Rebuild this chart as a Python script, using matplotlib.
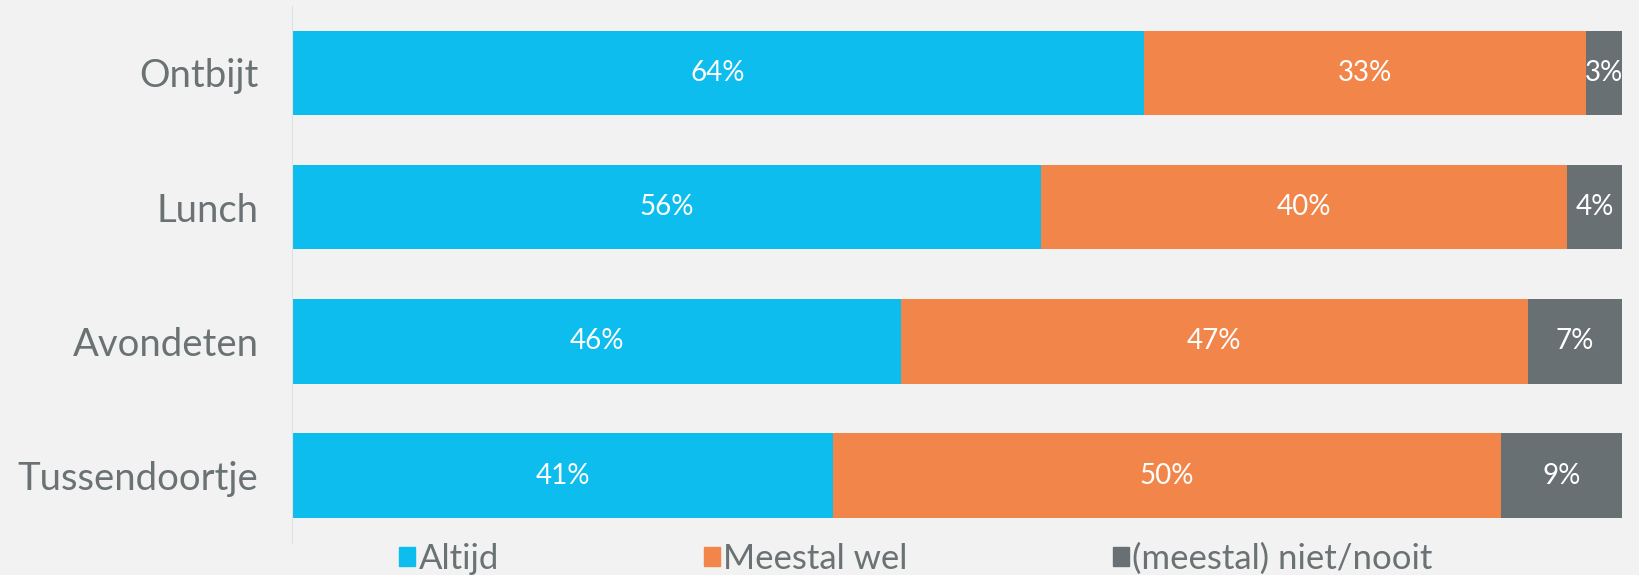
import numpy as np
from matplotlib import pyplot as plt
from matplotlib import patches

# data
categories = ['Ontbijt', 'Lunch', 'Avondeten', 'Tussendoortje']
series_names = ['Altijd', 'Meestal wel', '(meestal) niet/nooit']
altijd = [64.1, 56.3, 45.8, 40.7]
meestal_wel = [33.2, 39.6, 47.1, 50.2]
niet_nooit = [2.7, 4.1, 7.1, 9.1]
labels_altijd = ['64%', '56%', '46%', '41%']
labels_meestal = ['33%', '40%', '47%', '50%']
labels_niet = ['3%', '4%', '7%', '9%']

colors = ['#0DBDEE', '#F2864A', '#687073']
bg = '#F2F2F2'
text_grey = '#6A7274'

plt.rcParams['font.family'] = ['Lato', 'DejaVu Sans']

fig = plt.figure(figsize=(16.4, 5.75), dpi=100, facecolor=bg)
ax = fig.add_axes([0.178, 0.056, 0.811, 0.934], facecolor=bg)

y = np.arange(len(categories))
left = np.zeros(len(categories))
for vals, labs, col, name in zip([altijd, meestal_wel, niet_nooit],
                                 [labels_altijd, labels_meestal, labels_niet],
                                 colors, series_names):
    bars = ax.barh(y, vals, left=left, height=0.63, color=col, label=name)
    ax.bar_label(bars, labels=labs, label_type='center', color='white',
                 fontsize=20)
    left += np.array(vals)

ax.set_xlim(0, 100)
ax.set_ylim(3.5, -0.5)
ax.set_yticks(y)
ax.set_yticklabels(categories, fontsize=27.5, color=text_grey)
ax.tick_params(axis='y', length=0, pad=24)
ax.set_xticks([])
for s in ['top', 'right', 'bottom']:
    ax.spines[s].set_visible(False)
ax.spines['left'].set_color('#E0E0E0')

handles = [patches.Patch(color=c) for c in colors]
leg = fig.legend(handles, series_names, loc='center',
                 bbox_to_anchor=(0.5585, 0.028), ncol=3, frameon=False,
                 fontsize=25, handlelength=0.46, handleheight=0.46,
                 handletextpad=0.1, columnspacing=5.9, borderpad=0)
for t in leg.get_texts():
    t.set_color(text_grey)

fig.savefig('out.png', dpi=100, facecolor=bg)
